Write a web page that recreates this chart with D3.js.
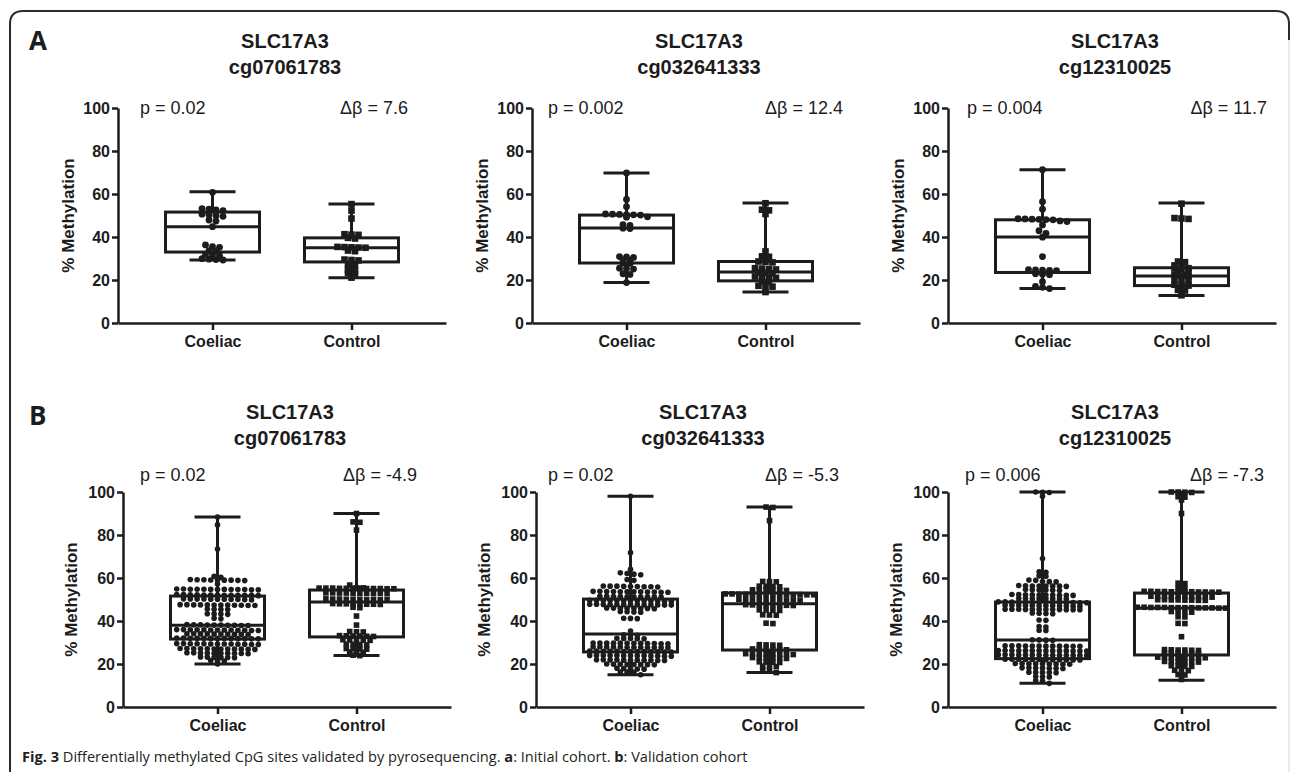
<!DOCTYPE html>
<html>
<head>
<meta charset="utf-8">
<script src="https://cdn.jsdelivr.net/npm/d3@7"></script>
<style>
  body { margin: 0; background: #fff; }
  svg { display: block; }
</style>
</head>
<body>
<svg id="chart" width="1290" height="772"></svg>
<script>
var categories = ["Coeliac", "Control"];
var geneNames = ["SLC17A3", "SLC17A3", "SLC17A3"];
var cpgSites = ["cg07061783", "cg032641333", "cg12310025"];
var yTicks = [0, 20, 40, 60, 80, 100];

var pInitial = ["p = 0.02", "p = 0.002", "p = 0.004"];
var deltaInitial = ["Δβ = 7.6", "Δβ = 12.4", "Δβ = 11.7"];
var pValidation = ["p = 0.02", "p = 0.02", "p = 0.006"];
var deltaValidation = ["Δβ = -4.9", "Δβ = -5.3", "Δβ = -7.3"];

// box summaries: [min, q1, median, q3, max]
var boxInitialCoeliac = [[29.3, 33, 44.8, 51.6, 61], [18.8, 27.9, 44.2, 50.2, 69.8], [16, 23.5, 40, 48, 71.3]];
var boxInitialControl = [[21, 28.4, 35, 39.6, 55.3], [14.4, 19.6, 23.7, 28.6, 55.8], [12.8, 17.4, 21.9, 25.7, 55.8]];
var boxValidationCoeliac = [[20, 31.6, 38, 51.6, 88.4], [15, 25.6, 34, 50.2, 98], [11, 22.5, 31.2, 48.8, 100]];
var boxValidationControl = [[24, 32.6, 48.8, 54.4, 90], [16, 26.5, 48, 53, 93], [12.5, 24.2, 46, 53, 100]];

// individual samples (% methylation)
var ptsInitialCoeliac = [
  [60.8, 53.2, 52.9, 52.6, 52.3, 50.6, 50.3, 49.9, 49.6, 47.9, 47.4, 44.8, 36.3, 35.5, 35.2, 33.7, 33.3, 31.9, 31.6, 31.3, 29.9, 29.7, 29.5, 29.3],
  [69.8, 57.5, 54.1, 50.7, 50.6, 50.5, 50.4, 50.3, 50.2, 49.4, 49.2, 45.7, 45.4, 44.1, 43.9, 30.9, 30.7, 30.5, 29.4, 29.1, 27.9, 27.7, 25.5, 25.3, 25.1, 22.9, 22.6, 18.8],
  [71.3, 56.4, 52.9, 48.5, 48.4, 48.3, 48.2, 48.1, 48.0, 47.5, 47.2, 45.6, 42.9, 41.7, 39.9, 30.9, 24.8, 24.7, 24.6, 24.5, 24.4, 22.9, 22.7, 22.5, 19.2, 17.0, 16.6, 16.0]
];
var ptsInitialControl = [
  [55.3, 52.3, 48.6, 41.3, 41.1, 41.0, 39.6, 39.3, 35.4, 35.3, 35.2, 35.1, 35.0, 33.7, 33.4, 29.5, 29.3, 29.1, 27.1, 26.8, 24.7, 24.4, 23.2, 22.9, 21.1],
  [55.7, 52.7, 52.4, 50.7, 33.3, 31.0, 30.8, 28.6, 28.4, 28.2, 25.5, 25.3, 25.1, 24.9, 23.5, 23.3, 23.1, 21.6, 21.4, 21.2, 21.0, 19.3, 19.0, 17.3, 17.1, 16.9, 14.4],
  [55.5, 48.8, 48.6, 48.4, 28.6, 28.3, 26.8, 26.5, 25.5, 25.3, 25.1, 24.0, 23.7, 22.4, 22.2, 22.0, 21.8, 20.1, 19.9, 19.7, 17.8, 17.6, 17.4, 15.4, 15.1, 12.9]
];
var ptsValidationCoeliac = [
  [88.4, 84.7, 73.5, 60.8, 60.3,
   59.3, 59.2, 59.1, 59.0, 59.1, 58.9, 59.2, 59.0, 58.8,
   57.2,
   54.9, 54.8, 54.7, 54.6, 54.8, 54.5, 54.7, 54.9, 54.6, 54.8, 54.7, 54.5, 54.6,
   52.2, 52.1, 52.0, 52.3, 51.9, 52.1, 52.2, 52.0, 51.8, 52.1, 52.3, 52.0, 51.9,
   50.2, 50.1, 50.0, 50.3, 49.9, 50.1, 50.2, 50.0, 50.1, 49.8, 50.2,
   47.5, 47.4, 47.3, 47.6, 47.2, 47.4, 47.5, 47.3, 47.4, 47.6, 47.2, 47.5,
   45.5, 45.3, 45.4, 45.6,
   43.4, 43.2, 43.3, 43.1,
   41.3, 41.0,
   38.2, 38.1, 38.0, 38.3, 37.9, 38.1, 38.2, 38.0, 38.1, 37.9,
   35.9, 35.8, 35.7, 36.0, 35.6, 35.8, 35.9, 35.7, 35.8, 36.0, 35.6, 35.9, 35.8,
   34.0, 33.9, 33.8, 34.1, 33.7, 33.9, 34.0, 33.8, 33.9, 34.1,
   32.0, 31.9, 31.8, 32.1, 31.7, 31.9, 32.0, 31.8, 31.9, 32.1, 31.7, 32.0, 31.9,
   29.4, 29.3, 29.2, 29.5, 29.1, 29.3, 29.4, 29.2, 29.3, 29.5, 29.1, 29.4, 29.3,
   27.1, 27.0, 26.9, 27.2, 26.8, 27.0, 27.1, 26.9, 27.0, 27.2, 26.8, 27.1,
   25.1, 25.0, 24.9, 25.2, 24.8, 25.0, 25.1, 24.9, 25.0, 25.2,
   23.2, 23.1, 23.0, 23.3, 22.9, 23.1,
   21.6, 21.5, 21.4,
   20.0],
  [98.0, 71.8, 64.0, 62.4, 62.1, 61.8, 61.5, 59.3, 58.9,
   56.2, 56.0, 55.9, 56.1, 56.3, 55.8, 56.0, 56.2, 55.9,
   53.7, 53.6, 53.5, 53.8, 53.4, 53.6, 53.7, 53.5, 53.6, 53.8, 53.4, 53.6,
   51.4, 51.3, 51.2, 51.5, 51.1, 51.3, 51.4, 51.2, 51.3, 51.5,
   49.5, 49.4, 49.3, 49.6, 49.2, 49.4, 49.5, 49.3, 49.4, 49.6, 49.2, 49.5, 49.4,
   47.7, 47.6, 47.5, 47.8, 47.4, 47.6, 47.7, 47.5, 47.6, 47.8, 47.4, 47.7, 47.5,
   45.9, 45.8, 46.0, 45.7, 45.9, 46.1, 45.8, 45.9,
   44.3, 44.1, 44.2, 44.4,
   41.3, 41.1, 41.2,
   35.3, 33.6, 33.4, 33.5,
   31.9, 31.8, 32.0, 31.7, 31.9,
   29.7, 29.6, 29.5, 29.8, 29.4, 29.6, 29.7, 29.5, 29.6, 29.8, 29.4, 29.7,
   27.9, 27.8, 27.7, 28.0, 27.6, 27.8, 27.9, 27.7, 27.8, 28.0, 27.6, 27.9,
   25.9, 25.8, 25.7, 26.0, 25.6, 25.8, 25.9, 25.7, 25.8, 26.0, 25.6, 25.9, 25.8,
   23.9, 23.8, 23.7, 24.0, 23.6, 23.8, 23.9, 23.7, 23.8, 24.0, 23.6, 23.9, 23.8,
   21.9, 21.8, 21.7, 22.0, 21.6, 21.8, 21.9, 21.7, 21.8, 22.0, 21.6,
   19.9, 19.8, 19.7, 20.0, 19.6, 19.8, 19.9, 19.7,
   17.9, 17.8, 17.7, 18.0, 17.6,
   16.3, 16.1, 16.2,
   15.0],
  [100.0, 99.8, 99.9, 98.0, 69.1,
   62.9, 62.6, 61.0, 60.8,
   59.1, 58.9, 58.3, 58.4, 58.2,
   56.3, 56.2, 56.4, 56.1, 56.3, 56.5, 56.2, 56.3,
   54.5, 54.4, 54.3, 54.6, 54.4, 54.2,
   52.2, 52.1, 52.0, 52.3, 51.9, 52.1, 52.2, 52.0, 52.1, 52.3,
   50.5, 50.4, 50.6, 50.3, 50.5, 50.4, 50.6, 50.5,
   48.8, 48.7, 48.6, 48.9, 48.5, 48.7, 48.8, 48.6, 48.7, 48.9, 48.5, 48.8, 48.7, 48.6,
   47.2, 47.1, 47.0, 47.3, 46.9, 47.1, 47.2, 47.0, 47.1, 47.3, 46.9, 47.2,
   45.4, 45.3, 45.5, 45.2, 45.4, 45.3, 45.5, 45.2, 45.4, 45.3, 45.5, 45.2,
   43.6, 43.5, 43.7, 43.4,
   40.5, 40.3, 37.4, 37.2, 35.7, 35.6,
   31.2, 31.1, 31.3, 31.0,
   28.4, 28.3, 28.5, 28.2, 28.4, 28.3, 28.5, 28.2, 28.4, 28.3, 28.5, 28.2,
   26.2, 26.1, 26.3, 26.0, 26.2, 26.1, 26.3, 26.0, 26.2, 26.1, 26.3, 26.0, 26.2, 26.1,
   24.2, 24.1, 24.3, 24.0, 24.2, 24.1, 24.3, 24.0, 24.2, 24.1, 24.3, 24.0, 24.2, 24.1,
   22.1, 22.0, 22.2, 21.9, 22.1, 22.0, 22.2, 21.9, 22.1, 22.0, 22.2, 21.9,
   20.1, 20.0, 20.2, 19.9, 20.1, 20.0, 20.2, 19.9, 20.1,
   18.1, 18.0, 18.2, 17.9, 18.1, 18.0, 18.2,
   16.1, 16.0, 16.2, 15.9, 16.1,
   14.1, 14.0, 14.2,
   12.3, 12.1,
   11.0]
];
var ptsValidationControl = [
  [90.0, 86.1, 85.9, 82.3,
   56.7,
   55.3, 55.2, 55.1, 55.4, 55.0, 55.2, 55.3, 55.1, 55.2, 55.4, 55.0, 55.3, 55.2, 55.1,
   53.0, 52.9, 52.8, 53.1, 52.7, 52.9, 53.0, 52.8, 52.9, 53.1,
   50.2, 50.1, 50.0, 50.3, 49.9, 50.1, 50.2, 50.0, 50.1, 49.9,
   48.0, 47.9, 47.8, 48.1, 47.7, 47.9, 48.0, 47.8,
   46.4, 46.2,
   42.3, 38.1,
   35.1, 34.9, 35.0,
   33.1, 33.0, 32.9, 33.2, 32.8, 33.0,
   31.2, 31.1, 31.3, 31.0, 31.2,
   29.1, 29.0, 28.9, 29.2,
   27.1, 27.0, 26.9, 27.2,
   25.6, 25.4, 25.5,
   24.1, 23.9],
  [93.0, 92.8, 86.7,
   58.4, 58.2, 58.3,
   56.1, 55.9, 56.0, 56.2,
   54.4, 54.3, 54.5, 54.2, 54.4, 54.3,
   52.5, 52.4, 52.3, 52.6, 52.2, 52.4, 52.5, 52.3, 52.4, 52.6, 52.2, 52.5, 52.4, 52.3,
   50.0, 49.9, 49.8, 50.1, 49.7, 49.9, 50.0, 49.8, 49.9, 50.1,
   47.5, 47.4, 47.3, 47.6, 47.2, 47.4, 47.5, 47.3,
   45.2, 45.0, 45.1, 44.9,
   42.9, 42.7, 42.8,
   39.0, 38.8,
   28.9, 28.8, 28.7, 29.0,
   26.9, 26.8, 26.7, 27.0, 26.6, 26.8,
   24.7, 24.6, 24.5, 24.8, 24.4, 24.6, 24.7, 24.5,
   22.9, 22.8, 22.7, 23.0, 22.6, 22.8,
   20.9, 20.8, 21.0, 20.7,
   18.9, 19.0, 18.8,
   17.1, 16.9,
   16.0],
  [100.0, 99.9, 99.8, 100.0, 97.8, 97.6, 96.3, 90.0,
   57.6, 57.4,
   55.3, 55.1,
   53.7, 53.6, 53.5, 53.8, 53.4, 53.6, 53.7, 53.5, 53.6, 53.8, 53.4, 53.6,
   51.4, 51.3, 51.2, 51.5, 51.1, 51.3, 51.4, 51.2, 51.3, 51.5,
   49.8, 49.7, 49.9, 49.6, 49.8, 49.7, 49.9, 49.6,
   46.3, 46.2, 46.1, 46.4, 46.0, 46.2, 46.3, 46.1, 46.2, 46.4, 46.0, 46.3, 46.2, 46.1,
   44.3, 44.2, 44.4, 44.1,
   42.0, 41.9,
   38.9, 38.8,
   32.7,
   26.6, 26.5, 26.4, 26.7, 26.3, 26.5,
   25.0, 24.9, 25.1, 24.8, 25.0, 24.9,
   23.1, 23.0, 23.2, 22.9, 23.1, 23.0, 23.2, 22.9,
   21.1, 21.0, 21.2, 20.9, 21.1, 21.0,
   19.1, 19.0, 19.2, 18.9,
   17.1, 17.0, 16.9,
   15.1, 14.9,
   12.8]
];

var INK = "#1c1c1c";
var FONT = "'Liberation Sans', Arial, Helvetica, sans-serif";
var CAPTION_FONT = "'Open Sans', 'Noto Sans', sans-serif";

var svg = d3.select("#chart");

// outer rounded frame, open at the bottom
svg.append("path")
  .attr("d", "M10,772 V24 Q10,11 23,11 H1276 Q1289,11 1289,24 V40")
  .attr("fill", "none").attr("stroke", "#2b2b2b").attr("stroke-width", 2);
svg.append("line")
  .attr("x1", 1289).attr("x2", 1289).attr("y1", 40).attr("y2", 772)
  .attr("stroke", "#e4e4e4").attr("stroke-width", 1.5);

var panels = [
  { label: "A", labelY: 50, titleY: [48, 74], statY: 114, top: 108, bottom: 323,
    axisX: [118, 532, 948], pX: [140, 548, 967], dX: [408, 843, 1267],
    p: pInitial, delta: deltaInitial,
    boxes: [boxInitialCoeliac, boxInitialControl], pts: [ptsInitialCoeliac, ptsInitialControl],
    r: 3.4, sq: 6.6, gap: 7 },
  { label: "B", labelY: 425, titleY: [419, 445], statY: 481, top: 492, bottom: 707,
    axisX: [123, 536, 948], pX: [140, 548, 965], dX: [417, 839, 1264],
    p: pValidation, delta: deltaValidation,
    boxes: [boxValidationCoeliac, boxValidationControl], pts: [ptsValidationCoeliac, ptsValidationControl],
    r: 2.8, sq: 5.6, gap: 6.8 }
];

// spread samples of about the same value side by side, like a dot plot
function spread(values, y, gap) {
  var sorted = values.slice().sort(function (a, b) { return b - a; });
  var rows = [], row = null;
  sorted.forEach(function (v) {
    if (!row || Math.abs(y(v) - y(row[0])) > 3) { row = []; rows.push(row); }
    row.push(v);
  });
  var out = [];
  rows.forEach(function (r) {
    r.forEach(function (v, i) {
      out.push({ v: v, dx: (i - (r.length - 1) / 2) * gap });
    });
  });
  return out;
}

panels.forEach(function (pn) {
  svg.append("text")
    .attr("x", 29).attr("y", pn.labelY)
    .attr("font-family", CAPTION_FONT).attr("font-weight", 700).attr("font-size", 26)
    .attr("fill", INK).text(pn.label);

  pn.axisX.forEach(function (ax, k) {
    var g = svg.append("g").attr("transform", "translate(" + ax + ",0)");
    var y = d3.scaleLinear().domain([0, 100]).range([pn.bottom, pn.top]);
    var x = d3.scalePoint().domain(categories).range([0, 328]).padding(0.68);

    // titles
    var cx = 167;
    g.append("text").attr("x", cx).attr("y", pn.titleY[0]).attr("text-anchor", "middle")
      .attr("font-family", FONT).attr("font-weight", 700).attr("font-size", 20)
      .attr("fill", INK).text(geneNames[k]);
    g.append("text").attr("x", cx).attr("y", pn.titleY[1]).attr("text-anchor", "middle")
      .attr("font-family", FONT).attr("font-weight", 700).attr("font-size", 20)
      .attr("fill", INK).text(cpgSites[k]);

    // stats
    svg.append("text").attr("x", pn.pX[k]).attr("y", pn.statY)
      .attr("font-family", FONT).attr("font-size", 18).attr("fill", INK).text(pn.p[k]);
    svg.append("text").attr("x", pn.dX[k]).attr("y", pn.statY).attr("text-anchor", "end")
      .attr("font-family", FONT).attr("font-size", 18).attr("fill", INK).text(pn.delta[k]);

    // axes
    var yAxis = g.append("g")
      .call(d3.axisLeft(y).tickValues(yTicks).tickSize(6).tickSizeOuter(0).tickPadding(2));
    var xAxis = g.append("g").attr("transform", "translate(0," + pn.bottom + ")")
      .call(d3.axisBottom(x).tickSize(7).tickSizeOuter(0).tickPadding(6));
    [yAxis, xAxis].forEach(function (a) {
      a.select(".domain").attr("stroke", INK).attr("stroke-width", 2.5);
      a.selectAll(".tick line").attr("stroke", INK).attr("stroke-width", 2.5);
      a.selectAll(".tick text").attr("fill", INK).attr("font-family", FONT)
        .attr("font-weight", 700);
    });
    yAxis.selectAll(".tick text").attr("font-size", 16);
    xAxis.selectAll(".tick text").attr("font-size", 16);

    g.append("text")
      .attr("transform", "translate(" + (pn.label === "A" ? -50 : -52) + "," + ((pn.top + pn.bottom) / 2) + ") rotate(-90)")
      .attr("text-anchor", "middle").attr("dy", "0.35em")
      .attr("font-family", FONT).attr("font-weight", 700).attr("font-size", 17)
      .attr("fill", INK).text("% Methylation");

    // boxes and whiskers
    categories.forEach(function (cat, c) {
      var b = pn.boxes[c][k];
      var xc = x(cat), hw = 47, cw = 23;
      var bg = g.append("g").attr("stroke", INK).attr("stroke-width", 3).attr("fill", "none");
      bg.append("line").attr("x1", xc).attr("x2", xc).attr("y1", y(b[4])).attr("y2", y(b[3]));
      bg.append("line").attr("x1", xc).attr("x2", xc).attr("y1", y(b[1])).attr("y2", y(b[0]));
      bg.append("line").attr("x1", xc - cw).attr("x2", xc + cw).attr("y1", y(b[4])).attr("y2", y(b[4]));
      bg.append("line").attr("x1", xc - cw).attr("x2", xc + cw).attr("y1", y(b[0])).attr("y2", y(b[0]));
      bg.append("rect").attr("x", xc - hw).attr("y", y(b[3]))
        .attr("width", hw * 2).attr("height", y(b[1]) - y(b[3]));
      bg.append("line").attr("x1", xc - hw).attr("x2", xc + hw).attr("y1", y(b[2])).attr("y2", y(b[2]));

      var pts = spread(pn.pts[c][k], y, pn.gap);
      if (c === 0) {
        g.append("g").selectAll("circle").data(pts).join("circle")
          .attr("cx", function (d) { return xc + d.dx; })
          .attr("cy", function (d) { return y(d.v); })
          .attr("r", pn.r).attr("fill", INK);
      } else {
        g.append("g").selectAll("rect").data(pts).join("rect")
          .attr("x", function (d) { return xc + d.dx - pn.sq / 2; })
          .attr("y", function (d) { return y(d.v) - pn.sq / 2; })
          .attr("width", pn.sq).attr("height", pn.sq).attr("fill", INK);
      }
    });
  });
});

// caption
var cap = svg.append("text").attr("x", 22).attr("y", 762)
  .attr("font-family", CAPTION_FONT).attr("font-size", 14.6).attr("fill", "#231f20");
cap.append("tspan").attr("font-weight", 700).text("Fig. 3");
cap.append("tspan").text(" Differentially methylated CpG sites validated by pyrosequencing. ");
cap.append("tspan").attr("font-weight", 700).text("a");
cap.append("tspan").text(": Initial cohort. ");
cap.append("tspan").attr("font-weight", 700).text("b");
cap.append("tspan").text(": Validation cohort");
</script>
</body>
</html>
